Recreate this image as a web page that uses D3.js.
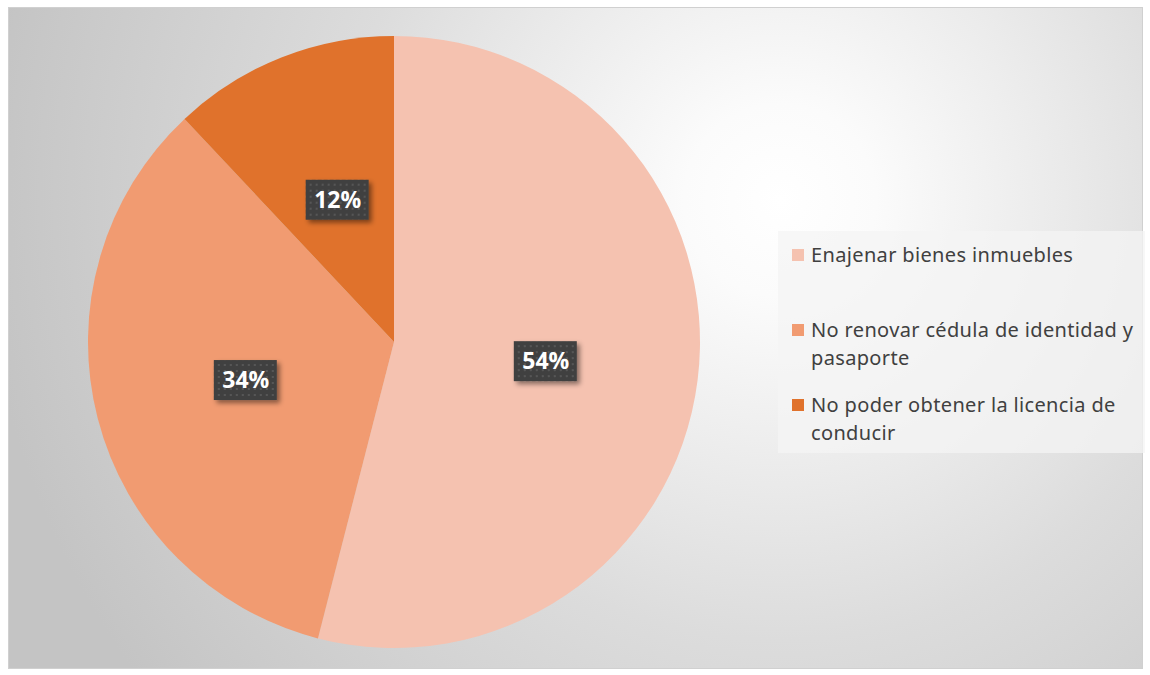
<!DOCTYPE html>
<html><head><meta charset="utf-8">
<script src="https://cdn.jsdelivr.net/npm/d3@7"></script>
<style>body{margin:0;background:#fff}</style>
</head><body>
<svg id="c" width="1150" height="675"></svg>
<script>
const categories = ["Enajenar bienes inmuebles", "No renovar cédula de identidad y pasaporte", "No poder obtener la licencia de conducir"];
const legendLines = [["Enajenar bienes inmuebles"], ["No renovar cédula de identidad y", "pasaporte"], ["No poder obtener la licencia de", "conducir"]];
const values = [54, 34, 12];
const labels = ["54%", "34%", "12%"];
const colors = ["#F5C2B0", "#F19B71", "#E0722C"];

const svg = d3.select("#c");
const defs = svg.append("defs");
const rg = defs.append("radialGradient").attr("id","bg").attr("gradientUnits","userSpaceOnUse")
  .attr("cx",780).attr("cy",200).attr("r",800);
rg.append("stop").attr("offset","0").attr("stop-color","#ffffff");
rg.append("stop").attr("offset","0.12").attr("stop-color","#fbfbfb");
rg.append("stop").attr("offset","0.55").attr("stop-color","#dcdcdc");
rg.append("stop").attr("offset","1").attr("stop-color","#c4c4c4");
const pat = defs.append("pattern").attr("id","dots").attr("patternUnits","userSpaceOnUse").attr("width",6).attr("height",6);
pat.append("rect").attr("width",6).attr("height",6).attr("fill","#404040");
pat.append("rect").attr("x",2).attr("y",2).attr("width",2).attr("height",2).attr("fill","#575757");
const flt = defs.append("filter").attr("id","sh").attr("x","-30%").attr("y","-30%").attr("width","170%").attr("height","170%");
flt.append("feDropShadow").attr("dx",3).attr("dy",3).attr("stdDeviation",2.5).attr("flood-color","#000").attr("flood-opacity",0.45);

svg.append("rect").attr("x",8.5).attr("y",7.5).attr("width",1134).attr("height",661)
  .attr("fill","url(#bg)").attr("stroke","#d0d0d0").attr("stroke-width",1);

const cx = 394, cy = 342, R = 306;
const pie = d3.pie().sort(null).value(d => d)(values);
const arc = d3.arc().innerRadius(0).outerRadius(R);
const g = svg.append("g").attr("transform",`translate(${cx},${cy})`);
g.selectAll("path").data(pie).join("path").attr("d",arc).attr("fill",(d,i)=>colors[i]);

const labelArc = d3.arc().innerRadius(R*0.5).outerRadius(R*0.5);
const lg = g.selectAll("g.lab").data(pie).join("g").attr("class","lab")
  .attr("transform",d=>{const c=labelArc.centroid(d);return `translate(${c[0]},${c[1]})`;});
lg.append("rect").attr("x",-32).attr("y",-20).attr("width",63).attr("height",40)
  .attr("fill","url(#dots)").attr("filter","url(#sh)");
lg.append("text").attr("text-anchor","middle").attr("dy","0.36em")
  .attr("fill","#fff").attr("font-family","'Open Sans', 'Noto Sans', sans-serif").attr("font-weight","bold")
  .attr("font-size",23).text((d,i)=>labels[i]);

// legend
svg.append("rect").attr("x",778).attr("y",231).attr("width",367).attr("height",222)
  .attr("fill","#f4f4f4").attr("fill-opacity",0.75);
const ly = [255, 330, 405];
const leg = svg.selectAll("g.leg").data(categories).join("g").attr("class","leg");
leg.append("rect").attr("x",792).attr("y",(d,i)=>ly[i]-6).attr("width",12).attr("height",12).attr("fill",(d,i)=>colors[i]);
leg.each(function(d,i){
  const t = d3.select(this).append("text").attr("font-family","'Noto Sans', 'Open Sans', sans-serif")
    .attr("font-size",20).attr("letter-spacing",0.35).attr("fill","#404040");
  legendLines[i].forEach((ln,j)=>{
    t.append("tspan").attr("x",811).attr("y",ly[i]+7+j*28).text(ln);
  });
});
</script>
</body></html>
